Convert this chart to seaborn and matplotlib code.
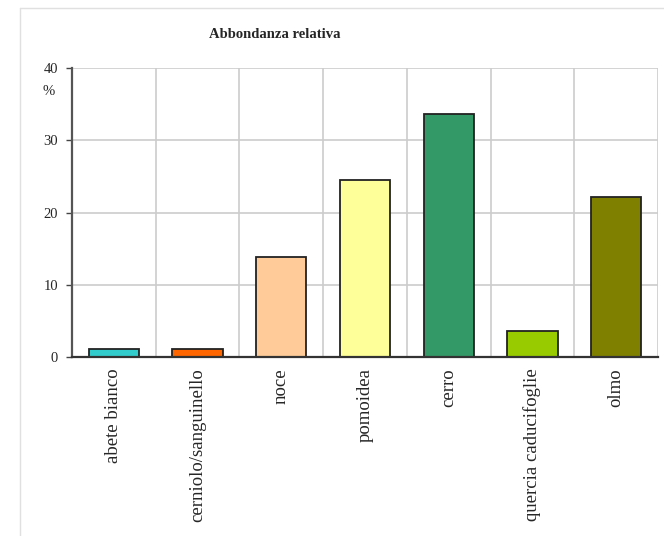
import matplotlib
matplotlib.use("Agg")
import matplotlib.pyplot as plt
from matplotlib.lines import Line2D
import seaborn as sns
import pandas as pd

categories = ["abete bianco", "cerniolo/sanguinello", "noce", "pomoidea",
              "cerro", "quercia caducifoglie", "olmo"]
values = [1.1, 1.1, 13.8, 24.5, 33.6, 3.6, 22.1]
colors = ["#33CCCC", "#FF6600", "#FFCC99", "#FFFF99", "#339966", "#99CC00", "#808000"]
yticks = [0, 10, 20, 30, 40]

df = pd.DataFrame({"specie": categories, "abbondanza": values})

sns.set_style("white")
plt.rcParams["font.family"] = ["Liberation Serif", "DejaVu Serif"]

fig = plt.figure(figsize=(6.64, 5.36), dpi=100)
ax = fig.add_axes([72 / 664, 1 - 357 / 536, 586 / 664, 289 / 536])

sns.barplot(data=df, x="specie", y="abbondanza", hue="specie", palette=colors,
            legend=False, width=0.6, edgecolor="#222222", linewidth=1.3,
            saturation=1, ax=ax, zorder=3)

ax.set_ylim(0, 40)
ax.set_xlim(-0.5, len(categories) - 0.5)
ax.set_yticks(yticks)
ax.set_yticklabels([str(t) for t in yticks], fontsize=10.5)

# horizontal grid at the y ticks, vertical grid between categories
for t in yticks[1:]:
    ax.axhline(t, color="#cccccc", lw=1.2, zorder=1)
for b in range(1, len(categories) + 1):
    ax.axvline(b - 0.5, color="#cccccc", lw=1.2, zorder=1)

ax.set_xticks(range(len(categories)))
ax.set_xticklabels(categories, rotation=90, fontsize=13.5, va="top")
ax.tick_params(axis="x", length=0, pad=8)
ax.tick_params(axis="y", length=4, width=1, color="#444444", pad=6, left=True)
ax.set_xlabel("")
ax.set_ylabel("")

for side in ["top", "right"]:
    ax.spines[side].set_visible(False)
ax.spines["left"].set_color("#555555")
ax.spines["left"].set_linewidth(1.6)
ax.spines["bottom"].set_color("#333333")
ax.spines["bottom"].set_linewidth(1.6)
ax.spines["left"].set_zorder(4)
ax.spines["bottom"].set_zorder(4)

fig.text(275 / 664, 1 - 35 / 536, "Abbondanza relativa", ha="center", va="center",
         fontsize=10.5, fontweight="bold")
fig.text(49 / 664, 1 - 92 / 536, "%", ha="center", va="center", fontsize=10.5)

# light frame of the chart area
fig.add_artist(Line2D([20 / 664, 20 / 664], [0, 1 - 8 / 536], transform=fig.transFigure,
                      color="#e0e0e0", lw=1))
fig.add_artist(Line2D([20 / 664, 1], [1 - 8 / 536, 1 - 8 / 536], transform=fig.transFigure,
                      color="#e0e0e0", lw=1))

fig.savefig("out.png", dpi=100)
